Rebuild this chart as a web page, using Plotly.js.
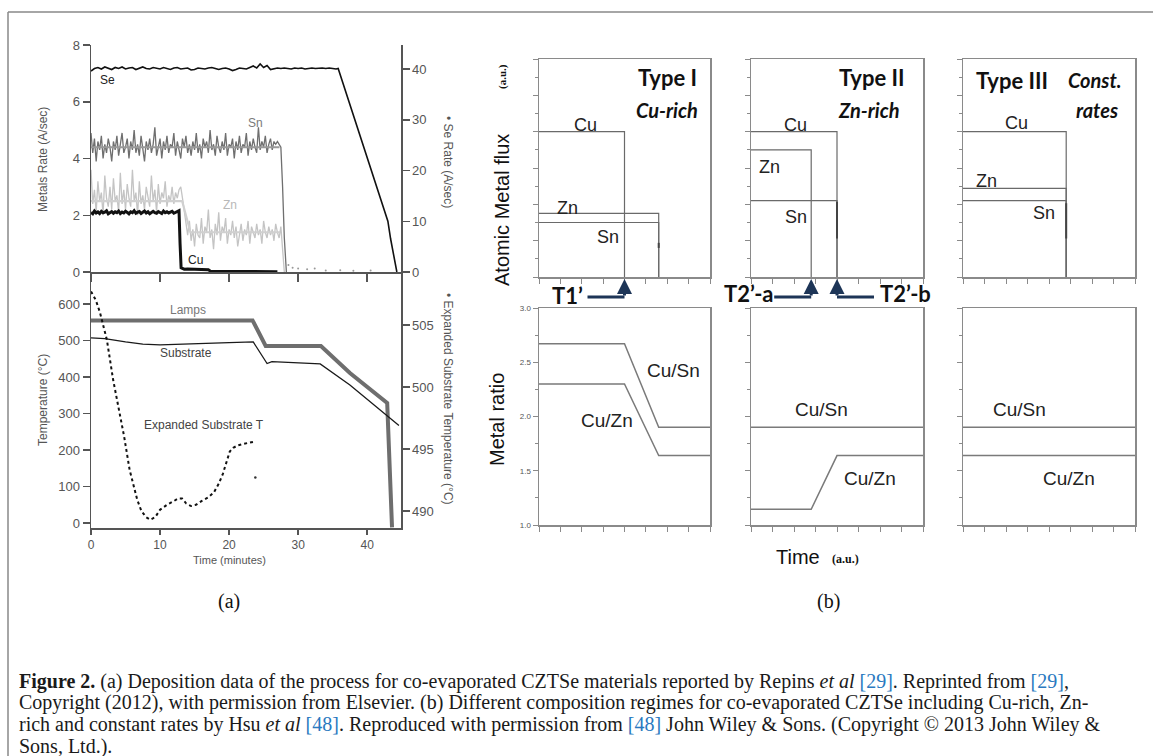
<!DOCTYPE html>
<html><head><meta charset="utf-8">
<script src="https://cdn.plot.ly/plotly-3.0.1.min.js"></script>
<style>html,body{margin:0;padding:0;background:#fff}#chart{width:1153px;height:756px}</style>
</head><body><div id="chart"></div>
<script>
// ================= DATA =================
// (a) top panel: metal rates (A/sec), sampled every 0.25 min
const rateStep = 0.25;
const snRate = [4.9,4.2,4.7,3.9,4.6,4.3,4.8,4.0,4.5,4.2,4.7,4.4,3.9,4.6,4.3,4.8,4.1,4.5,4.9,4.2,
4.4,4.7,4.0,4.6,4.3,5.0,4.2,4.5,4.1,4.8,4.4,3.9,4.6,4.3,4.7,4.2,4.5,5.1,4.1,4.4,
4.7,4.0,4.6,4.3,4.8,4.2,4.5,4.4,4.9,4.1,4.6,4.3,4.0,4.7,4.4,4.8,4.2,4.5,4.1,4.6,
4.3,4.9,4.2,4.5,4.0,4.7,4.4,4.6,4.2,5.0,4.3,4.5,4.1,4.8,4.4,4.2,4.6,4.3,4.9,4.1,
4.5,4.4,4.7,4.0,4.6,4.3,4.8,4.2,4.5,4.4,4.9,4.1,4.6,4.3,4.7,4.4,4.2,5.1,4.3,4.6,
4.4,4.8,4.2,4.5,4.7,4.3,4.6,4.5,4.6,4.5];
const snDropT = [27.5, 27.75, 28.0, 28.3];
const snDropV = [4.4, 3.0, 1.2, 0.0];
const snFitT = [0, 27.3];
const snFitV = [4.4, 4.4];
const snResidT = [28.6, 29.2, 30.0, 31.3, 32.4, 34.0, 36.1, 38.0, 40.5];
const snResidV = [0.25, 0.15, 0.12, 0.10, 0.12, 0.05, 0.06, 0.04, 0.05];

const znRate = [3.6,2.4,2.9,2.1,3.2,2.5,2.8,2.0,3.4,2.6,2.3,3.0,2.2,3.3,2.5,2.7,2.1,3.5,2.4,2.9,
2.2,3.1,2.6,2.3,3.6,2.5,2.8,2.0,3.2,2.4,2.7,2.2,3.0,2.6,2.3,3.4,2.5,2.9,2.1,3.1,
2.4,2.8,2.6,3.2,2.3,2.7,2.5,3.0,2.4,2.8,2.6,2.9,3.0,
2.6,2.1,1.6,1.3,1.8,1.1,1.5,0.9,1.7,1.3,1.2,1.9,1.0,1.6,1.4,2.2,1.2,1.5,0.8,1.7,
1.3,2.1,1.1,1.6,1.4,1.9,1.0,1.5,1.3,1.8,1.2,1.6,0.9,1.4,1.7,1.1,1.5,1.3,1.8,1.0,
1.6,1.4,1.2,1.7,1.3,1.5,1.0,1.8,1.4,1.2,1.6,1.3,1.5,1.1,1.7,1.4,1.2,1.6];
const znDropT = [27.75, 28.0];
const znDropV = [0.6, 0.0];
const znFitT = [0, 13.2, 14.4, 27.4];
const znFitV = [2.5, 2.5, 1.4, 1.4];

const cuRate = [2.10,2.05,2.15,2.08,2.12,2.06,2.14,2.09,2.11,2.16,2.05,2.10,2.13,2.07,2.12,2.09,2.15,2.06,2.11,2.08,
2.14,2.10,2.05,2.12,2.09,2.16,2.07,2.11,2.13,2.06,2.10,2.15,2.08,2.12,2.05,2.11,2.14,2.09,2.07,2.13,
2.10,2.06,2.15,2.09,2.12,2.08,2.11,2.14,2.07,2.10,2.13,2.16];
const cuTailT = [12.9, 13.05, 13.5, 14.0, 15.0, 16.0, 17.0, 17.3, 22.0, 27.0];
const cuTailV = [1.0, 0.15, 0.10, 0.11, 0.10, 0.09, 0.08, 0.03, 0.02, 0.01];

// Se rate (right axis, A/sec), sampled every 0.5 min
const seStep = 0.5;
const seRate = [39.6,40.1,40.3,40.0,40.4,40.2,39.9,40.3,40.1,40.4,40.0,40.2,40.3,39.9,40.2,40.4,40.1,40.0,40.3,40.2,
40.0,40.3,40.1,39.9,40.2,40.3,40.0,40.1,40.2,39.8,39.9,40.2,40.1,40.0,40.2,40.3,40.1,39.9,40.1,40.2,
40.0,39.7,39.9,40.2,40.1,40.0,40.3,40.6,40.2,41.0,40.3,40.7,39.9,40.1,40.2,40.1,40.2,40.1,40.0,40.2,
40.1,40.2,40.0,40.1,40.2,40.1,40.2,40.2,40.1,40.2,40.1,40.0];
const seDropT = [35.8, 43.0, 43.4, 43.8, 44.1, 44.3];
const seDropV = [40.1, 10.0, 6.5, 3.5, 1.2, 0.0];

// (a) bottom panel: temperatures (°C)
const lampT = [0, 23.4, 25.3, 33.3, 37.5, 42.9, 43.6];
const lampV = [555, 555, 485, 485, 411, 329, -12];
const substrateT = [0, 2, 5, 7.5, 10, 15, 20, 23.5, 25.5, 26.2, 33.2, 37.5, 44.6];
const substrateV = [507, 505, 496, 490, 488, 490, 494, 496, 437, 442, 436, 378, 267];
const expT = [0,0.7,1.3,2.3,3.2,3.9,4.8,5.6,6.7,7.3,8.0,8.6,9.3,10.0,11.0,12.0,12.6,13.2,13.8,14.5,15.2,16.0,17.0,17.8,18.5,19.1,19.6,20.1,20.6,21.3,22.0,23.0,23.7];
const expV = [507.7,507.0,506.0,503.8,500.6,498.7,496.0,493.3,490.9,490.0,489.5,489.3,489.5,490.1,490.5,490.8,491.0,491.0,490.6,490.4,490.5,490.8,491.1,491.5,492.2,493.0,494.0,494.8,495.1,495.3,495.4,495.5,495.6];
const expStrayT = [23.8];
const expStrayV = [492.7];

// (b) atomic metal flux (a.u.) per regime: level and shut-off time
const regimes = ['Type I', 'Type II', 'Type III'];
const cuLevel = [4.0, 4.0, 4.0];
const cuEnd   = [4.0, 4.0, 4.8];
const znLevel = [1.75, 3.5, 2.44];
const znEnd   = [5.6, 2.8, 4.8];
const snLevel = [1.5, 2.1, 2.1];
const snEnd   = [5.6, 4.0, 4.8];
const snEdgeTop = [0.94, 2.07, 2.03];
const snEdgeBot = [0.80, 1.06, 1.06];

// (b) metal ratios
const ratioT = [
  [0, 4.0, 5.6, 8],
  [0, 2.8, 4.0, 8],
  [0, 8]
];
const cuSnRatio = [
  [2.67, 2.67, 1.90, 1.90],
  [1.90, 1.90, 1.90, 1.90],
  [1.90, 1.90]
];
const cuZnRatio = [
  [2.30, 2.30, 1.64, 1.64],
  [1.145, 1.145, 1.64, 1.64],
  [1.64, 1.64]
];
const ratioTicks = [1.0, 1.5, 2.0, 2.5, 3.0];

// ================= BUILD =================
const W = 1153, H = 756;
const px = x => x / W;
const py = y => 1 - y / H;
const grid = (n, step) => Array.from({length: n}, (_, i) => i * step);

const SANS = 'Liberation Sans, Arial, sans-serif';
const SERIF = 'Liberation Serif, Times New Roman, serif';
const CAL = 'Lato, Open Sans, sans-serif';

const traces = [];
// --- (a) top
const tRate = grid(snRate.length, rateStep);
const tZn = grid(znRate.length, rateStep);
const tCu = grid(cuRate.length, rateStep);
const tSe = grid(seRate.length, seStep);
traces.push({x: tZn.concat(znDropT), y: znRate.concat(znDropV), xaxis:'x', yaxis:'y', mode:'lines', line:{color:'#c4c4c4', width:1.3}});
traces.push({x: znFitT, y: znFitV, xaxis:'x', yaxis:'y', mode:'lines', line:{color:'#d0d0d0', width:2.2}});
traces.push({x: tRate.concat(snDropT), y: snRate.concat(snDropV), xaxis:'x', yaxis:'y', mode:'lines', line:{color:'#6f6f6f', width:1.3}});
traces.push({x: snFitT, y: snFitV, xaxis:'x', yaxis:'y', mode:'lines', line:{color:'#9a9a9a', width:2}});
traces.push({x: snResidT, y: snResidV, xaxis:'x', yaxis:'y', mode:'markers', marker:{color:'#999', size:2}});
traces.push({x: tCu.concat(cuTailT), y: cuRate.concat(cuTailV), xaxis:'x', yaxis:'y', mode:'lines', line:{color:'#111', width:3}});
traces.push({x: tSe.concat(seDropT), y: seRate.concat(seDropV), xaxis:'x', yaxis:'y2', mode:'lines', line:{color:'#111', width:1.6}});
// --- (a) bottom
traces.push({x: lampT, y: lampV, xaxis:'x2', yaxis:'y3', mode:'lines', line:{color:'#6e6e6e', width:4}});
traces.push({x: substrateT, y: substrateV, xaxis:'x2', yaxis:'y3', mode:'lines', line:{color:'#1a1a1a', width:1.3}});
traces.push({x: expT, y: expV, xaxis:'x2', yaxis:'y4', mode:'lines', line:{color:'#111', width:2, dash:'dot'}});
traces.push({x: expStrayT, y: expStrayV, xaxis:'x2', yaxis:'y4', mode:'markers', marker:{color:'#333', size:2.5}});

// --- (b)
const fluxLine = {color:'#6a6a6a', width:1.2};
for (let i = 0; i < 3; i++) {
  const xa = 'x' + (3 + i), ya = 'y' + (5 + i);
  traces.push({x:[0, cuEnd[i], cuEnd[i]], y:[cuLevel[i], cuLevel[i], 0], xaxis:xa, yaxis:ya, mode:'lines', line:fluxLine});
  traces.push({x:[0, znEnd[i], znEnd[i]], y:[znLevel[i], znLevel[i], 0], xaxis:xa, yaxis:ya, mode:'lines', line:fluxLine});
  traces.push({x:[0, snEnd[i], snEnd[i]], y:[snLevel[i], snLevel[i], 0], xaxis:xa, yaxis:ya, mode:'lines', line:fluxLine});
  traces.push({x:[snEnd[i], snEnd[i]], y:[snEdgeTop[i], snEdgeBot[i]], xaxis:xa, yaxis:ya, mode:'lines', line:{color:'#444', width:2}});
  const xr = 'x' + (6 + i), yr = 'y' + (8 + i);
  traces.push({x: ratioT[i], y: cuSnRatio[i], xaxis:xr, yaxis:yr, mode:'lines', line:{color:'#7a7a7a', width:1.5}});
  traces.push({x: ratioT[i], y: cuZnRatio[i], xaxis:xr, yaxis:yr, mode:'lines', line:{color:'#7a7a7a', width:1.5}});
}

// ================= LAYOUT =================
const aAxis = {showline:true, linecolor:'#555', linewidth:1.5, ticks:'outside', ticklen:7, tickwidth:1.5, tickcolor:'#555',
  showgrid:false, zeroline:false, tickfont:{family:SANS, size:13, color:'#555'}};
const layout = {
  width: W, height: H, margin:{l:0,r:0,t:0,b:0}, paper_bgcolor:'#fff', plot_bgcolor:'rgba(0,0,0,0)',
  showlegend:false,
  xaxis: Object.assign({}, aAxis, {domain:[px(91), px(401)], anchor:'y', range:[0, 44.9], dtick:10, showticklabels:false, ticklen:8}),
  yaxis: Object.assign({}, aAxis, {domain:[py(272), py(45)], anchor:'x', range:[0, 8], dtick:2}),
  yaxis2: Object.assign({}, aAxis, {overlaying:'y', side:'right', anchor:'x', range:[0, 44.73], dtick:10}),
  xaxis2: Object.assign({}, aAxis, {domain:[px(91), px(401)], anchor:'y3', range:[0, 44.9], dtick:10, ticklen:5,
    tickfont:{family:SANS, size:12, color:'#555'}}),
  yaxis3: Object.assign({}, aAxis, {domain:[py(528), py(272)], anchor:'x2', range:[-13.7, 687.7], dtick:100}),
  yaxis4: Object.assign({}, aAxis, {overlaying:'y3', side:'right', anchor:'x2', range:[488.63, 509.27], dtick:5}),
  annotations: [], shapes: []
};
const bCol = '#8a8a8a';
const bBase = {showline:true, linecolor:bCol, linewidth:1.5, mirror:true, ticks:'outside', ticklen:5, tickcolor:bCol, tickwidth:1,
  showgrid:false, zeroline:false, showticklabels:false};
const bxDom = [[539, 710], [751, 923], [963, 1135]];
for (let i = 0; i < 3; i++) {
  const dom = [px(bxDom[i][0]), px(bxDom[i][1])];
  layout['xaxis' + (3 + i)] = Object.assign({}, bBase, {domain:dom, anchor:'y' + (5 + i), range:[0, 8], dtick:1});
  layout['yaxis' + (5 + i)] = Object.assign({}, bBase, {domain:[py(277), py(59)], anchor:'x' + (3 + i), range:[0, 6], dtick:1,
    minor:{ticks:'outside', ticklen:3, dtick:0.5, tickcolor:bCol}});
  layout['xaxis' + (6 + i)] = Object.assign({}, bBase, {domain:dom, anchor:'y' + (8 + i), range:[0, 8], dtick:1});
  layout['yaxis' + (8 + i)] = Object.assign({}, bBase, {domain:[py(525), py(308)], anchor:'x' + (6 + i), range:[1, 3],
    tickvals:ratioTicks, minor:{ticks:'outside', ticklen:3, dtick:0.25, tickcolor:bCol},
    showticklabels: i === 0, tickformat:'.1f', tickfont:{family:SANS, size:8, color:'#555'}});
}
for (let k = 0; k < 6; k++) {
  const xm = 'x' + (3 + k), ym = 'y' + (5 + k);
  const isFlux = k < 3;
  layout['xaxis' + (9 + k)] = {overlaying:xm, side:'top', anchor:ym, range:[0, 8], dtick:1, ticks:'inside', ticklen:3,
    tickcolor:bCol, showticklabels:false, showline:false, showgrid:false, zeroline:false};
  layout['yaxis' + (11 + k)] = {overlaying:ym, side:'right', anchor:xm, range: isFlux ? [0, 6] : [1, 3], dtick: isFlux ? 0.5 : 0.25,
    ticks:'inside', ticklen:3, tickcolor:bCol, showticklabels:false, showline:false, showgrid:false, zeroline:false};
}

function ann(text, x, y, o) {
  o = o || {};
  layout.annotations.push(Object.assign({text, x:px(x), y:py(y), xref:'paper', yref:'paper', showarrow:false,
    xanchor:o.xa || 'center', yanchor:o.ya || 'middle', textangle:o.rot || 0,
    font:{family:o.fam || SANS, size:o.size || 12, color:o.color || '#222'}}, o.extra || {}));
}
// (a) labels
ann('Se', 108, 80, {size:12, color:'#222'});
ann('Sn', 255, 123, {size:12, color:'#7a7a7a'});
ann('Zn', 230, 205, {size:12, color:'#b8b8b8'});
ann('Cu', 195, 260, {size:12, color:'#222'});
ann('Lamps', 188, 310, {size:12, color:'#777'});
ann('Substrate', 186, 353, {size:12, color:'#444'});
ann('Expanded Substrate T', 204, 425, {size:12, color:'#444'});
ann('Metals Rate (A/sec)', 43, 160, {size:12, color:'#555', rot:-90});
ann('Temperature (°C)', 43, 400, {size:12, color:'#555', rot:-90});
ann('• Se Rate (A/sec)', 448, 162, {size:12, color:'#555', rot:90});
ann('• Expanded Substrate Temperature (°C)', 448, 399, {size:12, color:'#555', rot:90});
ann('Time (minutes)', 229, 560, {size:11, color:'#555'});
ann('(a)', 229, 601, {size:20, fam:SERIF, color:'#111'});
// (b) labels
ann('Atomic Metal flux', 502, 210, {size:20, rot:-90, color:'#111'});
ann('<b>(a.u.)</b>', 502, 77, {size:11, rot:-90, fam:SERIF, color:'#111'});
ann('Metal ratio', 497, 420, {size:20, rot:-90, color:'#111'});
ann('<b>Type I</b>', 699, 78, {size:22, fam:CAL, xa:'right', color:'#111'});
ann('<b><i>Cu-rich</i></b>', 700, 110, {size:20, fam:CAL, xa:'right', color:'#111'});
ann('<b>Type II</b>', 872, 78, {size:22, fam:CAL, color:'#111'});
ann('<b><i>Zn-rich</i></b>', 869, 110, {size:20, fam:CAL, color:'#111'});
ann('<b>Type III</b>', 1012, 80, {size:22, fam:CAL, color:'#111'});
ann('<b><i>Const.</i></b>', 1066, 80, {size:20, fam:CAL, xa:'left', color:'#111'});
ann('<b><i>rates</i></b>', 1120, 110, {size:20, fam:CAL, xa:'right', color:'#111'});
ann('Cu', 585, 125, {size:18}); ann('Zn', 567, 208, {size:18}); ann('Sn', 608, 237, {size:18});
ann('Cu', 795, 125, {size:18}); ann('Zn', 769, 167, {size:18}); ann('Sn', 796, 217, {size:18});
ann('Cu', 1016, 123, {size:18}); ann('Zn', 986, 181, {size:18}); ann('Sn', 1044, 213, {size:18});
ann('<b>T1’</b>', 567, 295, {size:22, fam:CAL, color:'#111'});
ann('<b>T2’-a</b>', 749, 293, {size:22, fam:CAL, color:'#111'});
ann('<b>T2’-b</b>', 905, 293, {size:22, fam:CAL, color:'#111'});
ann('Cu/Sn', 673, 370, {size:19}); ann('Cu/Zn', 607, 420, {size:19});
ann('Cu/Sn', 821, 409, {size:19}); ann('Cu/Zn', 870, 478, {size:19});
ann('Cu/Sn', 1019, 409, {size:19}); ann('Cu/Zn', 1069, 478, {size:19});
ann('Time', 822, 557, {size:20, xa:'right', color:'#111'});
ann('<b>(a.u.)</b>', 830, 559, {size:12, fam:SERIF, xa:'left', color:'#111'});
ann('(b)', 828, 601, {size:20, fam:SERIF, color:'#111'});

// shut-off arrows (anchored at the data shut-off times)
const navy = '#1d3557';
function bentArrow(xref, xData, dir) {
  layout.annotations.push({xref, yref:'paper', x:xData, y:py(279), ax:0, ay:18, axref:'pixel', ayref:'pixel',
    showarrow:true, arrowhead:2, arrowsize:1, arrowwidth:3, arrowcolor:navy, text:''});
  layout.shapes.push({type:'line', xref, yref:'paper', xsizemode:'pixel', xanchor:xData,
    x0: dir < 0 ? -37 : 0, x1: dir < 0 ? 0 : 37, y0:py(297), y1:py(297), line:{color:navy, width:3}});
}
bentArrow('x3', cuEnd[0], -1);
bentArrow('x4', znEnd[1], -1);
bentArrow('x4', cuEnd[1], 1);

// caption
const link = s => '<span style="color:#2a79c0">' + s + '</span>';
const capLines = [
  '<b>Figure 2.</b> (a) Deposition data of the process for co-evaporated CZTSe materials reported by Repins <i>et al</i> ' + link('[29]') + '. Reprinted from ' + link('[29]') + ',',
  'Copyright (2012), with permission from Elsevier. (b) Different composition regimes for co-evaporated CZTSe including Cu-rich, Zn-',
  'rich and constant rates by Hsu <i>et al</i> ' + link('[48]') + '. Reproduced with permission from ' + link('[48]') + ' John Wiley &amp; Sons. (Copyright © 2013 John Wiley &amp;',
  'Sons, Ltd.).'
];
capLines.forEach((t, i) => ann(t, 17, 681 + 21.7 * i, {size:20, fam:SERIF, xa:'left', color:'#1a1a1a'}));

// frame
layout.shapes.push({type:'line', xref:'paper', yref:'paper', x0:px(8), x1:1, y0:py(12), y1:py(12), line:{color:'#888', width:1.5}});
layout.shapes.push({type:'line', xref:'paper', yref:'paper', x0:px(8), x1:px(8), y0:py(12), y1:0, line:{color:'#888', width:1.5}});

Plotly.newPlot('chart', traces, layout, {staticPlot:true, displayModeBar:false});
</script></body></html>
